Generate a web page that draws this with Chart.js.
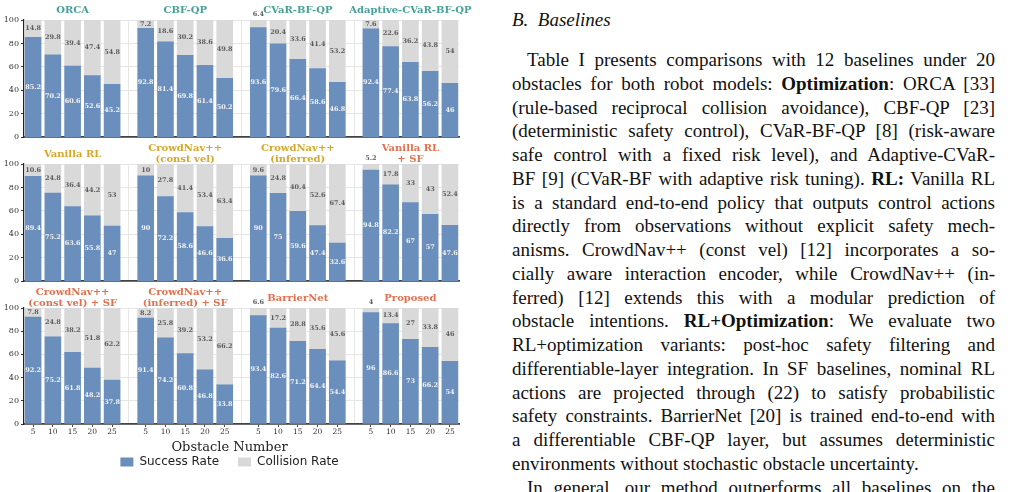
<!DOCTYPE html>
<html>
<head>
<meta charset="utf-8">
<script src="https://cdn.jsdelivr.net/npm/chart.js@4.4.1/dist/chart.umd.min.js"></script>
<style>
  body { margin: 0; width: 1010px; height: 492px; background: #fff; position: relative; overflow: hidden; }
  canvas.row { position: absolute; left: 0; }
  #head { position: absolute; left: 512px; top: 8px; font: italic 19px "Liberation Serif"; color: #111; line-height: 24px; }
  #text { position: absolute; left: 512px; top: 48px; width: 483px; font: 19px "Liberation Serif"; color: #111; }
  .ln { height: 23.75px; line-height: 23.75px; text-align: justify; text-align-last: justify; }
  .ind { padding-left: 15px; }
  .last { text-align-last: left; }
</style>
</head>
<body>
<canvas class="row" id="row1" width="480" height="144" style="top:0px"></canvas>
<canvas class="row" id="row2" width="480" height="144" style="top:144px"></canvas>
<canvas class="row" id="row3" width="480" height="193" style="top:288px"></canvas>

<div id="head">B.&nbsp; Baselines</div>
<div id="text">
  <div class="ln ind">Table I presents comparisons with 12 baselines under 20</div>
  <div class="ln">obstacles for both robot models: <b>Optimization</b>: ORCA [33]</div>
  <div class="ln">(rule-based reciprocal collision avoidance), CBF-QP [23]</div>
  <div class="ln">(deterministic safety control), CVaR-BF-QP [8] (risk-aware</div>
  <div class="ln">safe control with a fixed risk level), and Adaptive-CVaR-</div>
  <div class="ln">BF [9] (CVaR-BF with adaptive risk tuning). <b>RL:</b> Vanilla RL</div>
  <div class="ln">is a standard end-to-end policy that outputs control actions</div>
  <div class="ln">directly from observations without explicit safety mech-</div>
  <div class="ln">anisms. CrowdNav++ (const vel) [12] incorporates a so-</div>
  <div class="ln">cially aware interaction encoder, while CrowdNav++ (in-</div>
  <div class="ln">ferred) [12] extends this with a modular prediction of</div>
  <div class="ln">obstacle intentions. <b>RL+Optimization</b>: We evaluate two</div>
  <div class="ln">RL+optimization variants: post-hoc safety filtering and</div>
  <div class="ln">differentiable-layer integration. In SF baselines, nominal RL</div>
  <div class="ln">actions are projected through (22) to satisfy probabilistic</div>
  <div class="ln">safety constraints. BarrierNet [20] is trained end-to-end with</div>
  <div class="ln">a differentiable CBF-QP layer, but assumes deterministic</div>
  <div class="ln last">environments without stochastic obstacle uncertainty.</div>
  <div class="ln ind">In general, our method outperforms all baselines on the</div>
</div>

<script>
// obstacle counts on the x axis
const obstacles = [5, 10, 15, 20, 25];

// success / collision rates (%) per method
const orcaSucc = [85.2, 70.2, 60.6, 52.6, 45.2];
const orcaColl = [14.8, 29.8, 39.4, 47.4, 54.8];
const cbfSucc = [92.8, 81.4, 69.8, 61.4, 50.2];
const cbfColl = [7.2, 18.6, 30.2, 38.6, 49.8];
const cvarSucc = [93.6, 79.6, 66.4, 58.6, 46.8];
const cvarColl = [6.4, 20.4, 33.6, 41.4, 53.2];
const adaptSucc = [92.4, 77.4, 63.8, 56.2, 46];
const adaptColl = [7.6, 22.6, 36.2, 43.8, 54];

const rlSucc = [89.4, 75.2, 63.6, 55.8, 47];
const rlColl = [10.6, 24.8, 36.4, 44.2, 53];
const cnConstSucc = [90, 72.2, 58.6, 46.6, 36.6];
const cnConstColl = [10, 27.8, 41.4, 53.4, 63.4];
const cnInfSucc = [90, 75, 59.6, 47.4, 32.6];
const cnInfColl = [9.6, 24.8, 40.4, 52.6, 67.4];
const rlSfSucc = [94.8, 82.2, 67, 57, 47.6];
const rlSfColl = [5.2, 17.8, 33, 43, 52.4];

const cnConstSfSucc = [92.2, 75.2, 61.8, 48.2, 37.8];
const cnConstSfColl = [7.8, 24.8, 38.2, 51.8, 62.2];
const cnInfSfSucc = [91.4, 74.2, 60.8, 46.8, 33.8];
const cnInfSfColl = [8.2, 25.8, 39.2, 53.2, 66.2];
const barrierSucc = [93.4, 82.6, 71.2, 64.4, 54.4];
const barrierColl = [6.6, 17.2, 28.8, 35.6, 45.6];
const proposedSucc = [96, 86.6, 73, 66.2, 54];
const proposedColl = [4, 13.4, 27, 33.8, 46];

const TEAL = '#45a095', GOLD = '#d5a72a', SALMON = '#e0714f';
const BLUE = '#6b8fbc', GREY = '#d9d9d9';
const GAP = 5.7; // distance between group starts, in bar slots

const rows = [
  [
    { name: ['ORCA'], color: TEAL, succ: orcaSucc, coll: orcaColl },
    { name: ['CBF-QP'], color: TEAL, succ: cbfSucc, coll: cbfColl },
    { name: ['CVaR-BF-QP'], color: TEAL, succ: cvarSucc, coll: cvarColl },
    { name: ['Adaptive-CVaR-BF-QP'], color: TEAL, succ: adaptSucc, coll: adaptColl },
  ],
  [
    { name: ['Vanilla RL'], color: GOLD, succ: rlSucc, coll: rlColl },
    { name: ['CrowdNav++', '(const vel)'], color: GOLD, succ: cnConstSucc, coll: cnConstColl },
    { name: ['CrowdNav++', '(inferred)'], color: GOLD, succ: cnInfSucc, coll: cnInfColl },
    { name: ['Vanilla RL', '+ SF'], color: SALMON, succ: rlSfSucc, coll: rlSfColl },
  ],
  [
    { name: ['CrowdNav++', '(const vel) + SF'], color: SALMON, succ: cnConstSfSucc, coll: cnConstSfColl },
    { name: ['CrowdNav++', '(inferred) + SF'], color: SALMON, succ: cnInfSfSucc, coll: cnInfSfColl },
    { name: ['BarrierNet'], color: SALMON, succ: barrierSucc, coll: barrierColl },
    { name: ['Proposed'], color: SALMON, succ: proposedSucc, coll: proposedColl },
  ],
];

// x ticks: one per bar (labelled) plus group separators (grid only)
const xTickVals = [], xTickLabels = [];
for (let g = 0; g < 4; g++) {
  if (g > 0) { xTickVals.push(g * GAP - (GAP - 4) / 2); xTickLabels.push(''); }
  obstacles.forEach((o, j) => { xTickVals.push(g * GAP + j); xTickLabels.push(String(o)); });
}

const valueLabels = {
  id: 'valueLabels',
  afterDatasetsDraw(chart) {
    const ctx = chart.ctx;
    ctx.save();
    ctx.font = 'bold 6.5px "DejaVu Serif"';
    ctx.textAlign = 'center';
    ctx.textBaseline = 'middle';
    chart.data.datasets.forEach((ds, di) => {
      chart.getDatasetMeta(di).data.forEach((bar, i) => {
        const v = ds.data[i].y;
        let y = (bar.y + bar.base) / 2;
        if (di === 1 && v < 7) y = bar.y - 6;
        ctx.fillStyle = di === 0 ? '#f2f2f2' : '#5c5c5c';
        ctx.fillText(String(v), bar.x, y);
      });
    });
    ctx.restore();
  }
};

const groupTitles = {
  id: 'groupTitles',
  afterDraw(chart, args, opts) {
    const { ctx, chartArea, scales } = chart;
    ctx.save();
    ctx.font = 'bold 10px "DejaVu Serif"';
    ctx.textAlign = 'center';
    ctx.textBaseline = 'middle';
    opts.groups.forEach((grp, g) => {
      const cx = scales.x.getPixelForValue(g * GAP + 2);
      const n = grp.name.length;
      ctx.fillStyle = grp.color;
      grp.name.forEach((line, k) => {
        ctx.fillText(line, cx, chartArea.top - 10 + (k - (n - 1) / 2) * 10.5);
      });
    });
    ctx.restore();
  }
};

function makeRow(id, groups, bottom) {
  const succData = [], collData = [];
  groups.forEach((grp, g) => {
    grp.succ.forEach((v, j) => succData.push({ x: g * GAP + j, y: v }));
    grp.coll.forEach((v, j) => collData.push({ x: g * GAP + j, y: v }));
  });

  new Chart(document.getElementById(id), {
    type: 'bar',
    data: {
      datasets: [
        { label: 'Success Rate', data: succData, backgroundColor: BLUE, borderWidth: 0, barThickness: 16 },
        { label: 'Collision Rate', data: collData, backgroundColor: GREY, borderWidth: 0, barThickness: 16 },
      ],
    },
    plugins: [valueLabels, groupTitles],
    options: {
      responsive: false,
      animation: false,
      layout: { padding: { top: 20, right: 21, left: 0, bottom: 0 } },
      scales: {
        x: {
          type: 'linear',
          bounds: 'data',
          offset: false,
          min: -0.46,
          max: 3 * GAP + 4.46,
          stacked: true,
          afterBuildTicks: (s) => { s.ticks = xTickVals.map(v => ({ value: v })); },
          afterFit: (s) => { s.height = bottom ? 16 : 4.7; },
          ticks: {
            display: bottom,
            autoSkip: false,
            maxRotation: 0,
            padding: 1,
            color: '#333',
            font: { family: 'DejaVu Serif', size: 7.5 },
            callback: (v, i) => xTickLabels[i],
          },
          grid: {
            offset: false,
            drawTicks: bottom,
            tickLength: 3,
            color: (c) => xTickLabels[c.index] === '' ? '#e6e6e6' : 'rgba(0,0,0,0)',
            tickColor: (c) => xTickLabels[c.index] === '' ? 'rgba(0,0,0,0)' : '#444',
          },
          border: { color: '#444', width: 1.8 },
        },
        y: {
          min: 0,
          max: 100,
          stacked: true,
          afterFit: (s) => { s.width = 24; },
          ticks: { stepSize: 20, padding: 2, color: '#333', font: { family: 'DejaVu Serif', size: 8 } },
          grid: { color: '#e6e6e6', tickColor: '#333', tickLength: 3 },
          border: { color: '#222', width: 1.2 },
        },
      },
      plugins: {
        tooltip: { enabled: false },
        groupTitles: { groups },
        title: {
          display: bottom,
          position: 'bottom',
          weight: 500,
          text: 'Obstacle Number',
          color: '#222',
          font: { family: 'DejaVu Serif', size: 13, weight: 'normal' },
          padding: { top: 0, bottom: -18.6 },
        },
        legend: {
          display: bottom,
          position: 'bottom',
          labels: {
            boxWidth: 13,
            boxHeight: 9,
            padding: 19,
            color: '#222',
            font: { family: 'DejaVu Sans', size: 12 },
          },
        },
      },
    },
  });
}

makeRow('row1', rows[0], false);
makeRow('row2', rows[1], false);
makeRow('row3', rows[2], true);
</script>
</body>
</html>
